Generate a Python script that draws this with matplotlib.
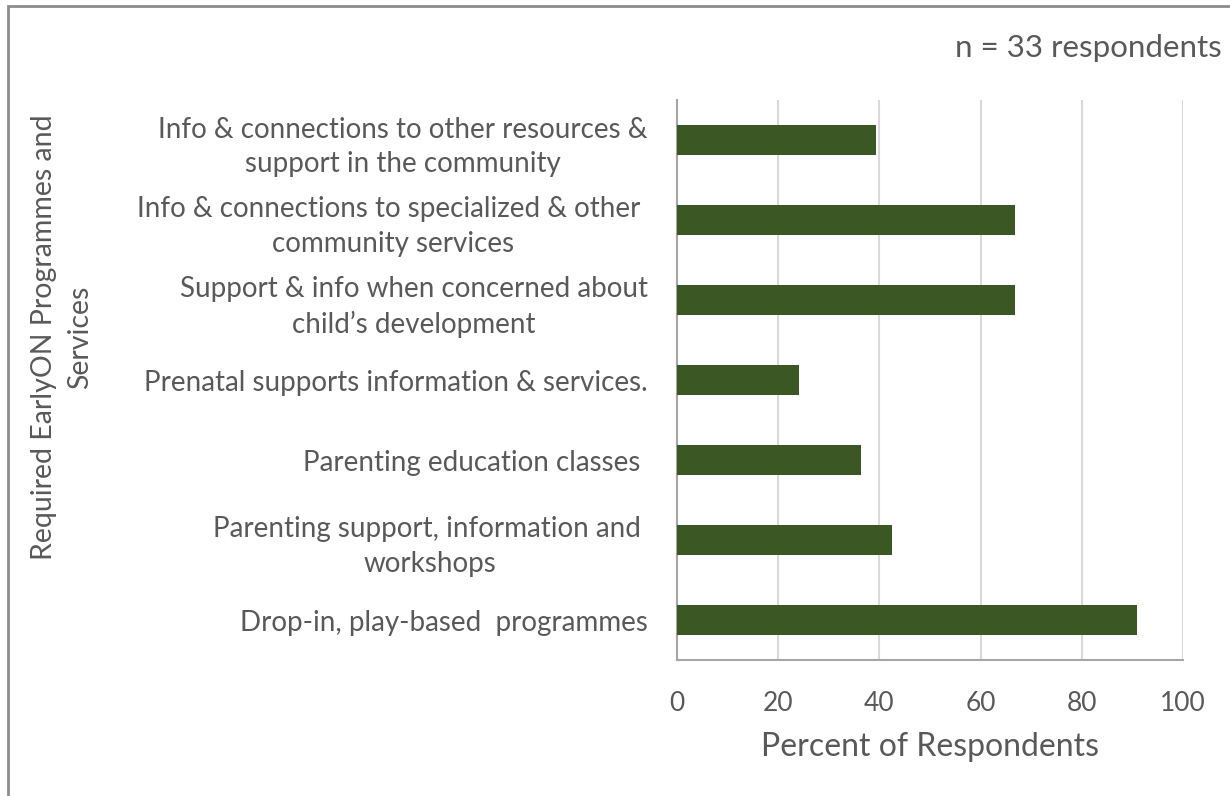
import matplotlib.pyplot as plt
from matplotlib.patches import Rectangle

plt.rcParams['font.family'] = ['Lato', 'DejaVu Sans']

# Programmes and the share of respondents who need them (bottom to top)
categories = [
    "Drop-in, play-based  programmes",
    "Parenting support, information and \nworkshops",
    "Parenting education classes ",
    "Prenatal supports information & services.",
    "Support & info when concerned about\nchild\u2019s development",
    "Info & connections to specialized & other \ncommunity services",
    "Info & connections to other resources &\nsupport in the community",
]
percent = [90.9, 42.4, 36.4, 24.2, 66.7, 66.7, 39.4]
xticks = [0, 20, 40, 60, 80, 100]

text_color = '#595959'
bar_color = '#3B5723'
grid_color = '#D9D9D9'

fig = plt.figure(figsize=(12.3, 7.96), dpi=100)
ax = fig.add_axes([677 / 1230, 1 - 660 / 796, (1183 - 677) / 1230, (660 - 100) / 796])

y = range(len(categories))
ax.barh(y, percent, height=0.38, color=bar_color, zorder=3)

ax.set_xlim(0, 100)
ax.set_ylim(-0.5, len(categories) - 0.5)
ax.set_xticks(xticks)
ax.set_yticks(list(y))
ax.set_yticklabels(categories, multialignment='center', linespacing=1.4)
ax.tick_params(axis='both', length=0, colors=text_color)
ax.tick_params(axis='x', pad=22, labelsize=19)
ax.tick_params(axis='y', pad=21, labelsize=20)
ax.xaxis.grid(True, color=grid_color, linewidth=1.5, zorder=0)

for side in ['top', 'right']:
    ax.spines[side].set_visible(False)
for side in ['left', 'bottom']:
    ax.spines[side].set_color('#A6A6A6')
    ax.spines[side].set_linewidth(1.5)

ax.set_xlabel("Percent of Respondents", fontsize=23, color=text_color, labelpad=12)

fig.text(62 / 1230, 1 - 337 / 796, "Required EarlyON Programmes and\nServices",
         rotation=90, ha='center', va='center', fontsize=20.5, color=text_color,
         multialignment='center', linespacing=1.45)
fig.text(1222 / 1230, 1 - 48 / 796, "n = 33 respondents", ha='right', va='center',
         fontsize=22.5, color=text_color)

# chart frame
fig.patches.append(Rectangle((8 / 1230, -0.05), 1.2, 1 - 6 / 796 + 0.05,
                             transform=fig.transFigure, fill=False,
                             edgecolor='#8C8C8C', linewidth=2))

fig.savefig("out.png", dpi=100)
